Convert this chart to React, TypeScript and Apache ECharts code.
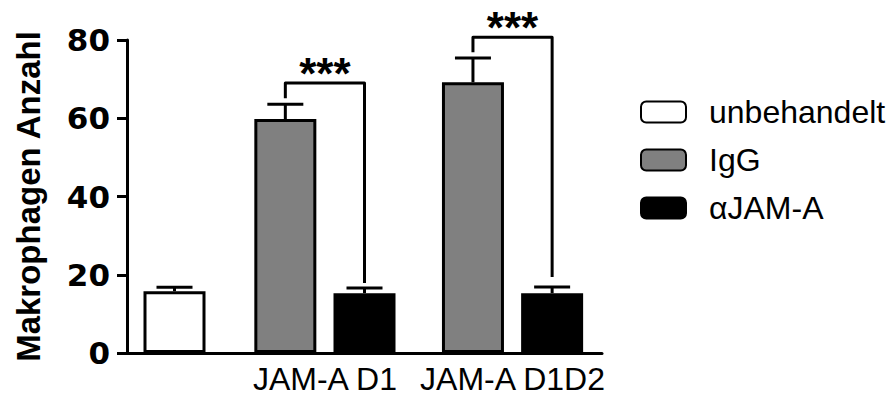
import React, { useEffect, useRef } from "react";
import * as echarts from "echarts";

// ---- data ----
const groupLabels = ["JAM-A D1", "JAM-A D1D2"];
const seriesNames = ["unbehandelt", "IgG", "αJAM-A"];
const unbehandeltMean = [15.8];
const unbehandeltErr = [1.0];
const iggMean = [59.8, 69.2];
const iggErr = [3.8, 6.2];
const ajamMean = [15.3, 15.3];
const ajamErr = [1.3, 1.6];
const sigLabels = ["***", "***"];
const bracketTop = [69, 80.7];
const bracketLeftEnd = [65.1, 76.9];
const bracketRightEnd = [17.9, 19.4];
const yMin = 0;
const yMax = 80;
const yStep = 20;
const yTitle = "Makrophagen Anzahl";

// ---- layout (axis units) ----
const X_MAX = 6;
const UNB_POS = 0.6;
const GROUP_POS = [2.5, 4.87];
const HALF = 0.5;

const FONT = "'Liberation Sans', Arial, Helvetica, sans-serif";
const TICK_FONT = "'DejaVu Sans', 'Liberation Sans', Arial, sans-serif";

export default function App() {
  const ref = useRef<HTMLDivElement>(null);
  useEffect(() => {
    if (!ref.current) return;
    const chart = echarts.init(ref.current, undefined, { renderer: "svg" });

    const unbData = unbehandeltMean.map((v) => [UNB_POS, v]);
    const iggData = iggMean.map((v, i) => [GROUP_POS[i] - HALF, v]);
    const ajamData = ajamMean.map((v, i) => [GROUP_POS[i] + HALF, v]);
    const errData = [
      ...unbehandeltMean.map((v, i) => [UNB_POS, v, unbehandeltErr[i]]),
      ...iggMean.map((v, i) => [GROUP_POS[i] - HALF, v, iggErr[i]]),
      ...ajamMean.map((v, i) => [GROUP_POS[i] + HALF, v, ajamErr[i]]),
    ];
    const bracketData = GROUP_POS.map((g, i) => [
      g - HALF,
      g + HALF,
      bracketTop[i],
      bracketLeftEnd[i],
      bracketRightEnd[i],
      i,
    ]);

    const barCommon = {
      type: "bar" as const,
      barWidth: 62,
      barGap: "-100%",
      z: 2,
    };

    chart.setOption({
      animation: false,
      textStyle: { fontFamily: FONT },
      grid: { left: 127, right: 288, top: 40, bottom: 44, containLabel: false },
      legend: {
        orient: "vertical",
        left: 640,
        top: 96,
        padding: 0,
        itemWidth: 45,
        itemHeight: 21,
        itemGap: 16,
        icon: "roundRect",
        selectedMode: false,
        data: seriesNames,
        textStyle: {
          fontFamily: FONT,
          fontSize: 32,
          color: "#000",
          padding: [0, 0, 0, 18],
        },
      },
      xAxis: {
        type: "value",
        min: 0,
        max: X_MAX,
        axisLine: { show: true, lineStyle: { color: "#000", width: 3 } },
        axisTick: { show: false },
        splitLine: { show: false },
        axisLabel: {
          customValues: GROUP_POS,
          formatter: (v: number) => {
            const i = GROUP_POS.findIndex((g) => Math.abs(g - v) < 1e-6);
            return i >= 0 ? groupLabels[i] : "";
          },
          fontFamily: FONT,
          fontSize: 32,
          color: "#000",
          margin: 10,
        },
      },
      yAxis: {
        type: "value",
        min: yMin,
        max: yMax,
        interval: yStep,
        name: yTitle,
        nameLocation: "middle",
        nameRotate: 90,
        nameGap: 82,
        nameTextStyle: { fontFamily: FONT, fontSize: 33, fontWeight: "bold", color: "#000" },
        axisLine: { show: true, lineStyle: { color: "#000", width: 3 } },
        axisTick: { show: true, length: 10, lineStyle: { color: "#000", width: 3 } },
        splitLine: { show: false },
        axisLabel: {
          fontFamily: TICK_FONT,
          fontSize: 31,
          fontWeight: "bold",
          color: "#000",
          margin: 17,
        },
      },
      series: [
        {
          ...barCommon,
          name: seriesNames[0],
          data: unbData,
          itemStyle: { color: "#ffffff", borderColor: "#000", borderWidth: 3 },
        },
        {
          ...barCommon,
          name: seriesNames[1],
          data: iggData,
          itemStyle: { color: "#808080", borderColor: "#000", borderWidth: 3 },
        },
        {
          ...barCommon,
          name: seriesNames[2],
          data: ajamData,
          itemStyle: { color: "#000000", borderColor: "#000", borderWidth: 3 },
        },
        {
          type: "custom",
          name: "err",
          z: 3,
          data: errData,
          encode: { x: 0, y: 1 },
          renderItem: (params: any, api: any) => {
            const x = api.value(0);
            const v = api.value(1);
            const e = api.value(2);
            const p0 = api.coord([x, v]);
            const p1 = api.coord([x, v + e]);
            const st = { stroke: "#000", lineWidth: 3, fill: "none" };
            return {
              type: "group",
              children: [
                { type: "line", shape: { x1: p0[0], y1: p0[1], x2: p1[0], y2: p1[1] }, style: st },
                { type: "line", shape: { x1: p1[0] - 18, y1: p1[1], x2: p1[0] + 18, y2: p1[1] }, style: st },
              ],
            };
          },
        },
        {
          type: "custom",
          name: "sig",
          z: 3,
          data: bracketData,
          encode: { x: [0, 1], y: [2, 3, 4] },
          renderItem: (params: any, api: any) => {
            const xl = api.value(0);
            const xr = api.value(1);
            const top = api.value(2);
            const lb = api.value(3);
            const rb = api.value(4);
            const idx = api.value(5);
            const a = api.coord([xl, lb]);
            const b = api.coord([xl, top]);
            const c = api.coord([xr, top]);
            const d = api.coord([xr, rb]);
            return {
              type: "group",
              children: [
                {
                  type: "polyline",
                  shape: { points: [a, b, c, d] },
                  style: { stroke: "#000", lineWidth: 3, fill: "none", lineJoin: "round" },
                },
                {
                  type: "text",
                  x: (b[0] + c[0]) / 2,
                  y: b[1] - 10,
                  style: {
                    text: sigLabels[idx],
                    fill: "#000",
                    font: `bold 44px ${FONT}`,
                    align: "center",
                    verticalAlign: "middle",
                  },
                },
              ],
            };
          },
        },
      ],
    });
    return () => chart.dispose();
  }, []);
  return (
    <div
      ref={ref}
      style={{ position: "fixed", left: 0, top: 0, width: 890, height: 397, background: "#fff" }}
    />
  );
}
